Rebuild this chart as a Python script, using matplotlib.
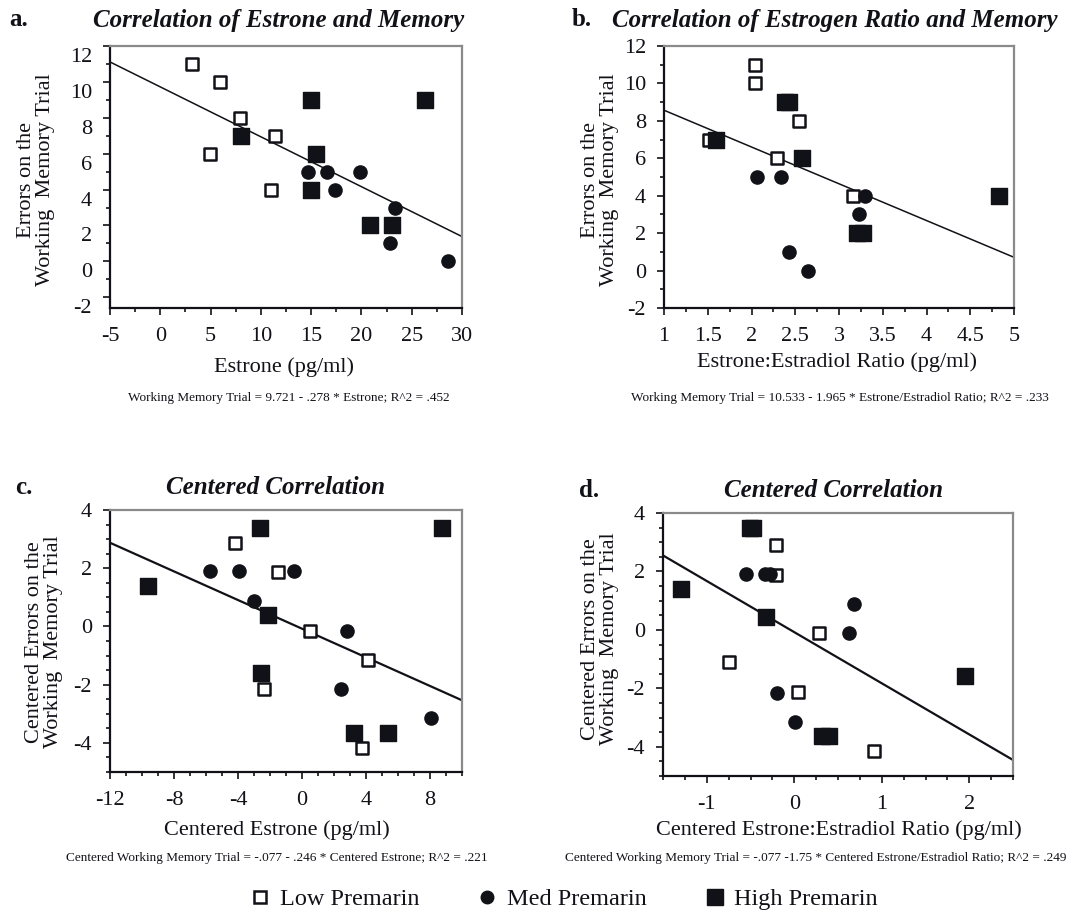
import numpy as np
import matplotlib.pyplot as plt
import matplotlib.transforms as mtransforms
from matplotlib.lines import Line2D
from matplotlib.ticker import MultipleLocator, FormatStrFormatter

plt.rcParams['font.family'] = ['Liberation Serif', 'DejaVu Serif']
plt.rcParams['axes.unicode_minus'] = False
ink = '#111118'

# a. estrone vs errors on the working memory trial
a_low_x = [3.2, 5.9, 7.9, 4.9, 11.4, 11.0]
a_low_y = [11, 10, 8, 6, 7, 4]
a_med_x = [14.7, 16.6, 17.4, 19.9, 23.3, 22.8, 28.6]
a_med_y = [5, 5, 4, 5, 3, 1, 0]
a_high_x = [15.0, 26.3, 8.0, 15.5, 15.0, 20.9, 23.0]
a_high_y = [9, 9, 7, 6, 4, 2, 2]

# b. estrone:estradiol ratio vs errors
b_low_x = [2.04, 2.04, 2.54, 1.51, 2.29, 3.16]
b_low_y = [11, 10, 8, 7, 6, 4]
b_med_x = [2.06, 2.34, 3.30, 3.23, 2.43, 2.64]
b_med_y = [5, 5, 4, 3, 1, 0]
b_high_x = [2.38, 2.43, 1.59, 2.58, 4.83, 3.21, 3.27]
b_high_y = [9, 9, 7, 6, 4, 2, 2]

# c. centered estrone vs centered errors
c_low_x = [-4.2, -1.5, 0.5, 4.1, -2.4, 3.75]
c_low_y = [2.87, 1.88, -0.16, -1.16, -2.14, -4.16]
c_med_x = [-5.75, -3.94, -0.53, -2.99, 2.84, 2.42, 8.04]
c_med_y = [1.9, 1.9, 1.9, 0.87, -0.14, -2.16, -3.16]
c_high_x = [-9.64, -2.63, 8.74, -2.11, -2.59, 3.26, 5.37]
c_high_y = [1.38, 3.39, 3.39, 0.39, -1.61, -3.65, -3.65]

# d. centered ratio vs centered errors
d_low_x = [-0.21, -0.21, -0.75, 0.285, 0.046, 0.91]
d_low_y = [2.9, 1.89, -1.11, -0.10, -2.12, -4.13]
d_med_x = [-0.55, -0.33, -0.28, 0.68, 0.62, -0.20, 0.008]
d_med_y = [1.91, 1.91, 1.91, 0.88, -0.09, -2.15, -3.15]
d_high_x = [-0.51, -0.47, -1.29, -0.32, 1.95, 0.32, 0.40]
d_high_y = [3.47, 3.47, 1.41, 0.43, -1.59, -3.62, -3.62]

# fitted lines: intercept, slope
fits = [(9.721, -0.278), (10.533, -1.965), (-0.077, -0.246), (-0.077, -1.75)]
equations = [
    'Working Memory Trial = 9.721 - .278 * Estrone; R^2 = .452',
    'Working Memory Trial = 10.533 - 1.965 * Estrone/Estradiol Ratio; R^2 = .233',
    'Centered Working Memory Trial = -.077 - .246 * Centered Estrone; R^2 = .221',
    'Centered Working Memory Trial = -.077 -1.75 * Centered Estrone/Estradiol Ratio; R^2 = .249',
]
titles = ['Correlation of Estrone and Memory', 'Correlation of Estrogen Ratio and Memory',
          'Centered Correlation', 'Centered Correlation']
letters = ['a.', 'b.', 'c.', 'd.']
xlabels = ['Estrone (pg/ml)', 'Estrone:Estradiol Ratio (pg/ml)',
           'Centered Estrone (pg/ml)', 'Centered Estrone:Estradiol Ratio (pg/ml)']
ylabels = ['Errors on the\nWorking  Memory Trial', 'Errors on the\nWorking  Memory Trial',
           'Centered Errors on the\nWorking  Memory Trial', 'Centered Errors on the\nWorking  Memory Trial']
group_names = ['Low Premarin', 'Med Premarin', 'High Premarin']

W, H = 1089, 915
fig = plt.figure(figsize=(W / 100, H / 100), dpi=100)

# pixel boxes: left, top, right, bottom
boxes = [(110, 46, 462, 308), (664, 46, 1014, 308), (110, 510, 462, 772), (663, 513, 1013, 776)]
xlims = [(-5, 30), (1, 5), (-12, 10), (-1.5, 2.5)]
ylims = [(-2.6, 12), (-2, 12), (-5, 4), (-5, 4)]
xmaj = [5, 0.5, 4, 1]
xmin = [2.5, 0.25, 1, 0.25]
ymaj = [2, 2, 2, 2]
ymin = [1, 1, 0.5, 0.5]
title_pos = [(279, 20), (835, 20), (275, 487), (833, 491)]
letter_pos = [(19, 20), (582, 20), (24, 487), (589, 490)]
ylab_pos = [(36, 180), (600, 180), (44, 642), (600, 639)]
xlab_pos = [(284, 367), (837, 362), (277, 830), (839, 830)]
eq_pos = [(289, 398), (840, 398), (277, 858), (816, 858)]

data = [
    (a_low_x, a_low_y, a_med_x, a_med_y, a_high_x, a_high_y),
    (b_low_x, b_low_y, b_med_x, b_med_y, b_high_x, b_high_y),
    (c_low_x, c_low_y, c_med_x, c_med_y, c_high_x, c_high_y),
    (d_low_x, d_low_y, d_med_x, d_med_y, d_high_x, d_high_y),
]

for i in range(4):
    l, t, r, b = boxes[i]
    ax = fig.add_axes([l / W, 1 - b / H, (r - l) / W, (b - t) / H])
    lx, ly, mx, my, hx, hy = data[i]

    x0, x1 = xlims[i]
    xs = np.array([x0, x1])
    ax.plot(xs, fits[i][0] + fits[i][1] * xs, color=ink, lw=1.1 if i < 2 else 1.6, zorder=2)

    ax.scatter(lx, ly, marker='s', s=75, facecolors='white', edgecolors=ink, linewidths=1.8, zorder=3)
    ax.scatter(mx, my, marker='o', s=90, color=ink, zorder=4)
    ax.scatter(hx, hy, marker='s', s=120, color=ink, zorder=5)

    ax.set_xlim(xlims[i])
    ax.set_ylim(ylims[i])
    ax.xaxis.set_major_locator(MultipleLocator(xmaj[i]))
    ax.xaxis.set_minor_locator(MultipleLocator(xmin[i]))
    ax.xaxis.set_major_formatter(FormatStrFormatter('%g'))
    ax.yaxis.set_major_locator(MultipleLocator(ymaj[i]))
    ax.yaxis.set_minor_locator(MultipleLocator(ymin[i]))
    ax.yaxis.set_major_formatter(FormatStrFormatter('%g'))
    if i == 0:
        ax.set_yticks(np.arange(-2, 13, 2))
    ax.tick_params(which='both', direction='out', colors=ink, labelsize=16, width=1.2)
    ax.tick_params(which='major', length=5, pad=8)
    ax.tick_params(which='minor', length=3)
    ax.tick_params(axis='x', pad=9)
    for side in ['left', 'bottom']:
        ax.spines[side].set_color(ink)
        ax.spines[side].set_linewidth(1.6)
    for side in ['top', 'right']:
        ax.spines[side].set_color('#8a8a8a')
        ax.spines[side].set_linewidth(1.6)

    if i == 0:
        # y labels of this panel sit a little below their ticks
        shift = mtransforms.ScaledTranslation(0, -0.09, fig.dpi_scale_trans)
        for lab in ax.get_yticklabels():
            lab.set_transform(lab.get_transform() + shift)

    tx, ty = title_pos[i]
    fig.text(tx / W, 1 - ty / H, titles[i], ha='center', va='center', fontsize=18,
             fontweight='bold', fontstyle='italic', color=ink)
    px, py = letter_pos[i]
    fig.text(px / W, 1 - py / H, letters[i], ha='center', va='center', fontsize=18,
             fontweight='bold', color=ink)
    yx, yy = ylab_pos[i]
    fig.text(yx / W, 1 - yy / H, ylabels[i], ha='center', va='center', rotation=90,
             fontsize=16, linespacing=1.0, multialignment='center', color=ink)
    xx, xy = xlab_pos[i]
    fig.text(xx / W, 1 - xy / H, xlabels[i], ha='center', va='center', fontsize=16, color=ink)
    ex, ey = eq_pos[i]
    fig.text(ex / W, 1 - ey / H, equations[i], ha='center', va='center', fontsize=9.5, color=ink)

handles = [
    Line2D([], [], ls='none', marker='s', ms=9, mfc='white', mec=ink, mew=1.8),
    Line2D([], [], ls='none', marker='o', ms=9, color=ink),
    Line2D([], [], ls='none', marker='s', ms=11, color=ink),
]
fig.legend(handles, group_names, loc='center', bbox_to_anchor=(0.518, 0.017), ncol=3,
           frameon=False, fontsize=17.5, columnspacing=2.4, handlelength=0.8,
           handletextpad=0.4, labelcolor=ink)

fig.savefig('out.png', dpi=100)
